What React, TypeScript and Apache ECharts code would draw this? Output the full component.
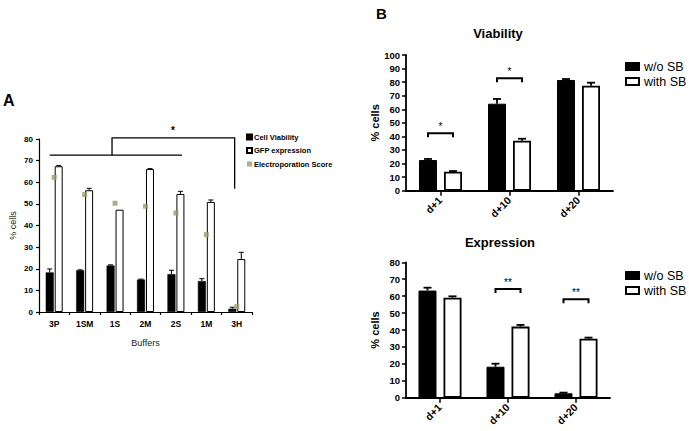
import React, { useEffect, useRef } from 'react';
import * as echarts from 'echarts';

const FONT = '"Liberation Sans", Arial, Helvetica, sans-serif';

// Panel A
const A_CATS = ['3P', '1SM', '1S', '2M', '2S', '1M', '3H'];
const A_VIABILITY = [18.3, 19.3, 21.5, 15.0, 17.5, 14.3, 1.5];
const A_VIABILITY_ERR = [1.6, 0.2, 0.3, 0.2, 1.8, 1.1, 0.7];
const A_GFP = [67.4, 56.3, 47.3, 66.1, 54.6, 50.9, 24.5];
const A_GFP_ERR = [0.3, 0.9, 0, 0.2, 1.2, 0.9, 3.1];
const A_SCORE = [62.3, 54.3, 50.3, 48.9, 45.8, 35.8, 2.5];
// significance bracket (x in category units, y in %)
const A_BRACKET_LOW = [[-0.15, 72.5], [4.2, 72.5]];
const A_BRACKET_HIGH = [[1.9, 72.5], [1.9, 80.5], [5.93, 80.5], [5.93, 57]];
const A_STAR = [3.9, 80.5];

// Panel B
const B_CATS = ['d+1', 'd+10', 'd+20'];
const VIAB_WO = [22.6, 64.1, 81.6];
const VIAB_WO_ERR = [0.8, 3.5, 0.7];
const VIAB_WITH = [14.0, 36.9, 77.4];
const VIAB_WITH_ERR = [0.5, 1.4, 2.2];
const VIAB_SIG = [[0, 42.3, '*'], [1, 82.8, '*']];

const EXPR_WO = [63.3, 18.3, 2.6];
const EXPR_WO_ERR = [1.7, 1.8, 0.4];
const EXPR_WITH = [59.1, 42.0, 34.9];
const EXPR_WITH_ERR = [0.8, 1.0, 0.6];
const EXPR_SIG = [[1, 64.2, '**'], [2, 58.1, '**']];

function errData(vals: number[], errs: number[]) {
  return vals.map((v, i) => [i, v, errs[i]]);
}

function errSeries(name: string, axis: number, vals: number[], errs: number[], offset: number, capHalf: number, lw: number) {
  return {
    type: 'custom',
    name,
    xAxisIndex: axis,
    yAxisIndex: axis,
    data: errData(vals, errs),
    encode: { x: 0, y: 1 },
    z: 4,
    silent: true,
    renderItem: (params: any, api: any) => {
      const i = api.value(0);
      const v = api.value(1);
      const e = api.value(2);
      if (!(e > 0)) return { type: 'group', children: [] };
      const base = api.coord([i, v]);
      const top = api.coord([i, v + e]);
      const x = base[0] + offset;
      const st = { stroke: '#000', lineWidth: lw };
      return {
        type: 'group',
        children: [
          { type: 'line', shape: { x1: x, y1: base[1], x2: x, y2: top[1] }, style: st },
          { type: 'line', shape: { x1: x - capHalf, y1: top[1], x2: x + capHalf, y2: top[1] }, style: st },
        ],
      };
    },
  };
}

function sigSeries(axis: number, sig: any[], half: number) {
  return {
    type: 'custom',
    name: 'sig' + axis,
    xAxisIndex: axis,
    yAxisIndex: axis,
    data: sig.map((s) => [s[0], s[1]]),
    encode: { x: 0, y: 1 },
    z: 5,
    silent: true,
    itemStyle: { color: '#000' },
    renderItem: (params: any, api: any) => {
      const c = api.coord([api.value(0), api.value(1)]);
      const x1 = c[0] - half;
      const x2 = c[0] + half;
      const y = c[1];
      return {
        type: 'group',
        children: [
          {
            type: 'polyline',
            shape: { points: [[x1, y + 4], [x1, y], [x2, y], [x2, y + 4]] },
            style: { stroke: '#000', lineWidth: 2, fill: null },
          },
          {
            type: 'text',
            x: c[0],
            y: y - 2,
            style: {
              text: sig[params.dataIndex][2],
              align: 'center',
              verticalAlign: 'bottom',
              fontSize: 10,
              fontFamily: FONT,
              fill: '#000',
            },
          },
        ],
      };
    },
  };
}

function bracketA() {
  return {
    type: 'custom',
    name: 'sigA',
    xAxisIndex: 0,
    yAxisIndex: 0,
    data: [[0, 0]],
    encode: { x: 0, y: 1 },
    z: 5,
    silent: true,
    itemStyle: { color: '#000' },
    renderItem: (params: any, api: any) => {
      const bw = api.size([1, 0])[0];
      const map = (p: number[]) => {
        const c = api.coord([0, p[1]]);
        return [c[0] + p[0] * bw, c[1]];
      };
      const st = { stroke: '#000', lineWidth: 1.3, fill: null };
      const star = map(A_STAR);
      return {
        type: 'group',
        children: [
          { type: 'polyline', shape: { points: A_BRACKET_LOW.map(map) }, style: st },
          { type: 'polyline', shape: { points: A_BRACKET_HIGH.map(map) }, style: st },
          {
            type: 'text',
            x: star[0],
            y: star[1] - 2,
            style: { text: '*', align: 'center', verticalAlign: 'bottom', fontSize: 10, fontWeight: 'bold', fontFamily: FONT, fill: '#000' },
          },
        ],
      };
    },
  };
}

function buildOption() {
  const axisLineA = { show: true, lineStyle: { color: '#000', width: 1.2 } };
  const axisLineB = { show: true, lineStyle: { color: '#000', width: 1.8 } };
  const bY = (gi: number, max: number) => ({
    type: 'value',
    gridIndex: gi,
    min: 0,
    max,
    interval: 10,
    axisLine: axisLineB,
    axisTick: { show: true, length: 4, lineStyle: { color: '#000', width: 1.5 } },
    axisLabel: { fontSize: 9.5, fontWeight: 'bold', color: '#000', fontFamily: FONT, margin: 6 },
    splitLine: { show: false },
    name: '% cells',
    nameLocation: 'middle',
    nameGap: 26,
    nameTextStyle: { fontSize: 11, fontWeight: 'bold', color: '#000', fontFamily: FONT },
  });
  const bX = (gi: number) => ({
    type: 'category',
    gridIndex: gi,
    data: B_CATS,
    axisLine: axisLineB,
    axisTick: { show: true, alignWithLabel: true, length: 5, lineStyle: { color: '#000', width: 1.5 } },
    axisLabel: { rotate: 45, fontSize: 10.5, fontWeight: 'bold', color: '#000', fontFamily: FONT, margin: 8, interval: 0 },
    splitLine: { show: false },
  });
  const legendB = (top: number) => ({
    data: ['w/o SB', 'with SB'],
    orient: 'vertical',
    left: 620,
    top,
    icon: 'rect',
    itemWidth: 13,
    itemHeight: 7,
    itemGap: 2,
    textStyle: { fontSize: 12.5, color: '#000', fontFamily: FONT },
  });
  const barB = (name: string, axis: number, data: number[], white: boolean) => ({
    type: 'bar',
    name,
    xAxisIndex: axis,
    yAxisIndex: axis,
    data,
    barWidth: 18,
    barGap: '39%',
    itemStyle: white
      ? { color: '#fff', borderColor: '#000', borderWidth: 1.8 }
      : { color: '#000', borderColor: '#000', borderWidth: 1 },
  });

  return {
    animation: false,
    backgroundColor: '#fff',
    textStyle: { fontFamily: FONT },
    grid: [
      { left: 39, top: 139, width: 213, height: 173, outerBoundsMode: 'none' },
      { left: 406, top: 55, width: 207, height: 135.7, outerBoundsMode: 'none' },
      { left: 406, top: 262.3, width: 204, height: 135.4, outerBoundsMode: 'none' },
    ],
    graphic: [
      { type: 'text', x: 3, y: 100, style: { text: 'A', fontSize: 16, fontWeight: 'bold', fontFamily: FONT, fill: '#000', align: 'left', verticalAlign: 'middle' } },
      { type: 'text', x: 376, y: 13, style: { text: 'B', fontSize: 15, fontWeight: 'bold', fontFamily: FONT, fill: '#000', align: 'left', verticalAlign: 'middle' } },
      { type: 'text', x: 498, y: 33, style: { text: 'Viability', fontSize: 13, fontWeight: 'bold', fontFamily: FONT, fill: '#000', align: 'center', verticalAlign: 'middle' } },
      { type: 'text', x: 500, y: 242, style: { text: 'Expression', fontSize: 13, fontWeight: 'bold', fontFamily: FONT, fill: '#000', align: 'center', verticalAlign: 'middle' } },
    ],
    legend: [
      {
        data: ['Cell Viability', 'GFP expression', 'Electroporation Score'],
        orient: 'vertical',
        left: 241,
        top: 128,
        icon: 'rect',
        itemWidth: 5,
        itemHeight: 5,
        itemGap: 5.5,
        textStyle: { fontSize: 7.5, fontWeight: 'bold', color: '#000', fontFamily: FONT, padding: [0, 0, 0, -3] },
      },
      legendB(55),
      legendB(264),
    ],
    xAxis: [
      {
        type: 'category',
        gridIndex: 0,
        data: A_CATS,
        axisLine: axisLineA,
        axisTick: { show: true, length: 3, lineStyle: { color: '#000', width: 1.2 } },
        axisLabel: { fontSize: 8.5, fontWeight: 'bold', color: '#000', fontFamily: FONT, margin: 7, interval: 0 },
        splitLine: { show: false },
        name: 'Buffers',
        nameLocation: 'middle',
        nameGap: 26,
        nameTextStyle: { fontSize: 9, color: '#222', fontFamily: FONT },
      },
      bX(1),
      bX(2),
    ],
    yAxis: [
      {
        type: 'value',
        gridIndex: 0,
        min: 0,
        max: 80,
        interval: 10,
        axisLine: axisLineA,
        axisTick: { show: true, length: 3, lineStyle: { color: '#000', width: 1.2 } },
        axisLabel: { fontSize: 8, fontWeight: 'bold', color: '#000', fontFamily: FONT, margin: 6 },
        splitLine: { show: false },
        name: '% cells',
        nameLocation: 'middle',
        nameGap: 22,
        nameTextStyle: { fontSize: 9, color: '#222', fontFamily: FONT },
      },
      bY(1, 100),
      bY(2, 80),
    ],
    series: [
      {
        type: 'bar',
        name: 'Cell Viability',
        xAxisIndex: 0,
        yAxisIndex: 0,
        data: A_VIABILITY,
        barWidth: 8,
        barGap: '12%',
        itemStyle: { color: '#000', borderColor: '#000', borderWidth: 0.5 },
      },
      {
        type: 'bar',
        name: 'GFP expression',
        xAxisIndex: 0,
        yAxisIndex: 0,
        data: A_GFP,
        barWidth: 8,
        barGap: '12%',
        itemStyle: { color: '#fff', borderColor: '#000', borderWidth: 1 },
      },
      {
        type: 'scatter',
        name: 'Electroporation Score',
        xAxisIndex: 0,
        yAxisIndex: 0,
        data: A_SCORE.map((v, i) => [i, v]),
        symbol: 'rect',
        symbolSize: 5,
        itemStyle: { color: '#9b9a6b' },
        z: 6,
      },
      errSeries('errA1', 0, A_VIABILITY, A_VIABILITY_ERR, -4.5, 2.5, 1),
      errSeries('errA2', 0, A_GFP, A_GFP_ERR, 4.5, 2.5, 1),
      bracketA(),

      barB('w/o SB', 1, VIAB_WO, false),
      barB('with SB', 1, VIAB_WITH, true),
      errSeries('errB1', 1, VIAB_WO, VIAB_WO_ERR, -12.5, 4, 1.8),
      errSeries('errB2', 1, VIAB_WITH, VIAB_WITH_ERR, 12.5, 4, 1.8),
      sigSeries(1, VIAB_SIG, 12.5),

      barB('w/o SB', 2, EXPR_WO, false),
      barB('with SB', 2, EXPR_WITH, true),
      errSeries('errC1', 2, EXPR_WO, EXPR_WO_ERR, -12.5, 4, 1.8),
      errSeries('errC2', 2, EXPR_WITH, EXPR_WITH_ERR, 12.5, 4, 1.8),
      sigSeries(2, EXPR_SIG, 12.5),
    ],
  };
}

export default function App() {
  const ref = useRef<HTMLDivElement>(null);
  useEffect(() => {
    if (!ref.current) return;
    const chart = echarts.init(ref.current, null, { renderer: 'svg' });
    chart.setOption(buildOption() as any);
    return () => chart.dispose();
  }, []);
  return (
    <div
      ref={ref}
      style={{ position: 'fixed', left: 0, top: 0, width: 689, height: 431, background: '#fff' }}
    />
  );
}
